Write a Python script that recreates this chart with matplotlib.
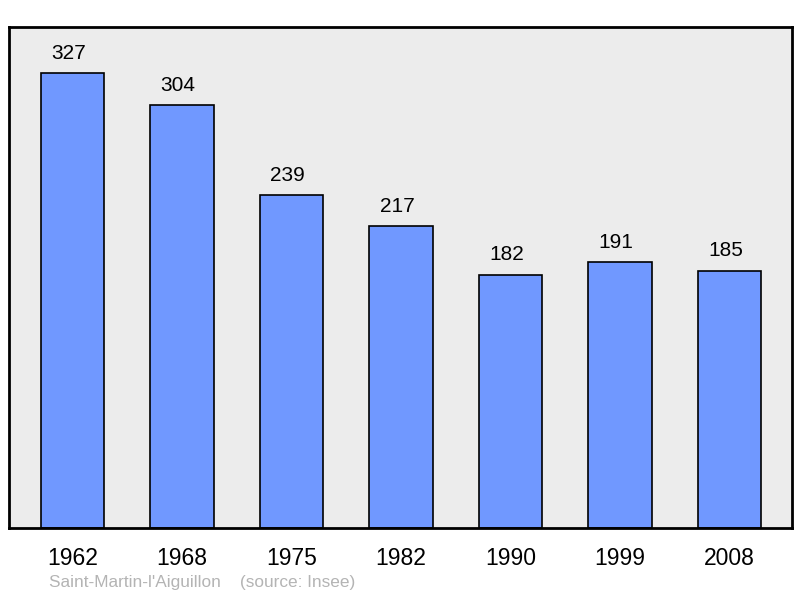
import matplotlib
matplotlib.use("Agg")
import matplotlib.pyplot as plt

years = ["1962", "1968", "1975", "1982", "1990", "1999", "2008"]
population = [327, 304, 239, 217, 182, 191, 185]
commune = "Saint-Martin-l'Aiguillon"
source = "(source: Insee)"

plt.rcParams['font.family'] = ['Liberation Sans', 'DejaVu Sans']

fig = plt.figure(figsize=(8, 5.98), dpi=100)
ax = fig.add_axes([9/800, 70/598, 783/800, 501/598])
ax.set_facecolor('#ececec')

x = range(len(years))
ax.bar(x, population, width=0.58, color='#7098ff', edgecolor='black', linewidth=1.2, zorder=2)
for i, v in zip(x, population):
    ax.annotate(str(v), (i, v), xytext=(-3, 7.5), textcoords='offset points',
                ha='center', va='bottom', fontsize=15)

ax.set_xlim(-0.58, 6.57)
ax.set_ylim(0, 360)
ax.set_yticks([])
ax.set_xticks(list(x))
ax.set_xticklabels(years, fontsize=16.5)
ax.tick_params(axis='x', length=0, pad=13.5)
for s in ax.spines.values():
    s.set_linewidth(2)

fig.text(49/800, 1 - 583/598, commune + "    " + source, color='#b4b4b4',
         fontsize=12.4, va='center', ha='left')

fig.savefig('out.png', dpi=100)
